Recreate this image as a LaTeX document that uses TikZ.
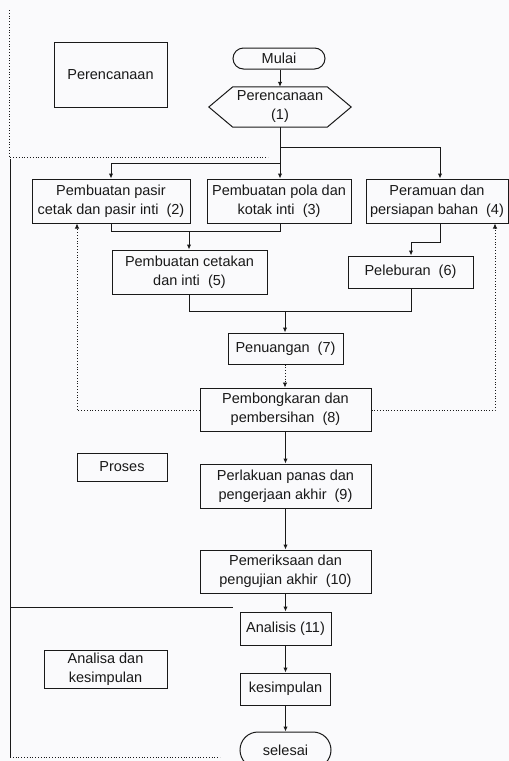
\documentclass[tikz,border=0pt]{standalone}
\usepackage{fontspec}
\setmainfont{Liberation Sans}
\usetikzlibrary{arrows.meta,shapes.misc}
\definecolor{ink}{RGB}{25,25,25}
\definecolor{paper}{RGB}{250,250,252}
\begin{document}
\begin{tikzpicture}[x=1pt,y=-1pt,
  every node/.style={font=\fontsize{14.5}{19}\selectfont, text=ink, inner sep=0pt, align=center},
  box/.style={draw=ink, line width=1pt, rectangle},
  term/.style={draw=ink, line width=1pt, rounded rectangle},
  conn/.style={draw=ink, line width=1pt},
  arr/.style={conn, -{Latex[length=5pt,width=4.5pt]}},
  dotline/.style={draw=ink, line width=0.8pt, dotted},
  darr/.style={dotline, -{Latex[length=5pt,width=4.5pt]}}]
\useasboundingbox (0,0) rectangle (509,761);
\fill[paper] (0,0) rectangle (509,761);

% frame lines
\draw[dotline] (9,10) -- (9,157) -- (268,157);
\draw[conn] (10,159) -- (10,757);
\draw[conn] (10,607) -- (233,607);
\draw[dotline] (10,757) -- (220,757);

% label boxes
\node[box, minimum width=113pt, minimum height=65pt] (lab1) at (110.5,74.5) {Perencanaan};
\node[box, minimum width=90pt, minimum height=28pt] (lab2) at (122,467) {Proses};
\node[box, minimum width=123pt, minimum height=38pt] (lab3) at (105.5,669) {Analisa dan\\kesimpulan};

% flow nodes
\node[term, minimum width=92pt, minimum height=21pt] (mulai) at (279,58.5) {Mulai};
\node[minimum width=142pt, minimum height=40pt] (plan) at (280,107) {Perencanaan\\(1)};
\draw[conn] (plan.west) -- ([xshift=24pt]plan.north west) -- ([xshift=-24pt]plan.north east)
  -- (plan.east) -- ([xshift=-24pt]plan.south east) -- ([xshift=24pt]plan.south west) -- cycle;

\node[box, minimum width=158pt, minimum height=44pt] (b2) at (111,201) {Pembuatan pasir\\cetak dan pasir inti\ \ (2)};
\node[box, minimum width=144pt, minimum height=44pt] (b3) at (279,201) {Pembuatan pola dan\\kotak inti\ \ (3)};
\node[box, minimum width=142pt, minimum height=44pt] (b4) at (437,201) {Peramuan dan\\persiapan bahan\ \ (4)};
\node[box, minimum width=155pt, minimum height=44pt] (b5) at (189.5,272) {Pembuatan cetakan\\dan inti\ \ (5)};
\node[box, minimum width=125pt, minimum height=32pt] (b6) at (410.5,272) {Peleburan\ \ (6)};
\node[box, minimum width=115pt, minimum height=31pt] (b7) at (285.5,348.5) {Penuangan\ \ (7)};
\node[box, minimum width=171pt, minimum height=43pt] (b8) at (285.5,409.5) {Pembongkaran dan\\pembersihan\ \ (8)};
\node[box, minimum width=171pt, minimum height=44pt] (b9) at (285.5,486) {Perlakuan panas dan\\pengerjaan akhir\ \ (9)};
\node[box, minimum width=171pt, minimum height=43pt] (b10) at (285.5,571.5) {Pemeriksaan dan\\pengujian akhir\ \ (10)};
\node[box, minimum width=91pt, minimum height=33pt] (b11) at (285.5,628.5) {Analisis (11)};
\node[box, minimum width=90pt, minimum height=32pt] (b12) at (285.5,689) {kesimpulan};
\node[term, minimum width=91pt, minimum height=36pt] (end) at (285.5,750) {selesai};

% junction coordinates
\coordinate (j1) at (280,147);
\coordinate (j2) at (280,163);
\coordinate (j3) at (189,231);
\coordinate (j4) at (411,242);
\coordinate (j5) at (285,311);
\coordinate (fl) at (77,410);
\coordinate (fr) at (495,410);

% connectors
\draw[arr] (mulai.south -| plan.north) -- (plan.north);
\draw[conn] (plan.south) -- (j1);
\draw[arr] (j1) -- (440,147) -- (b4.north -| 440,0);
\draw[arr] (j1) -- (b3.north -| j1);
\draw[arr] (j2) -- (j2 -| b2.south) -- (b2.north);
\draw[conn] (b2.south) -- (b2.south |- j3) -- (j3 -| j1) -- (b3.south -| j1);
\draw[arr] (j3) -- (b5.north -| j3);
\draw[arr] (b4.south -| 440,0) -- (440,242) -- (j4) -- (b6.north -| j4);
\draw[conn] (b5.south -| j3) -- (j3 |- j5) -- (j5 -| j4) -- (b6.south -| j4);
\draw[arr] (j5) -- (b7.north -| j5);
\draw[darr] (b7.south -| j5) -- (b8.north -| j5);
\draw[darr] (b8.west |- fl) -- (fl) -- (b2.south -| fl);
\draw[darr] (b8.east |- fr) -- (fr) -- (b4.south -| fr);
\draw[arr] (b8) -- (b9);
\draw[arr] (b9) -- (b10);
\draw[arr] (b10) -- (b11);
\draw[arr] (b11) -- (b12);
\draw[arr] (b12) -- (end);
\end{tikzpicture}
\end{document}
